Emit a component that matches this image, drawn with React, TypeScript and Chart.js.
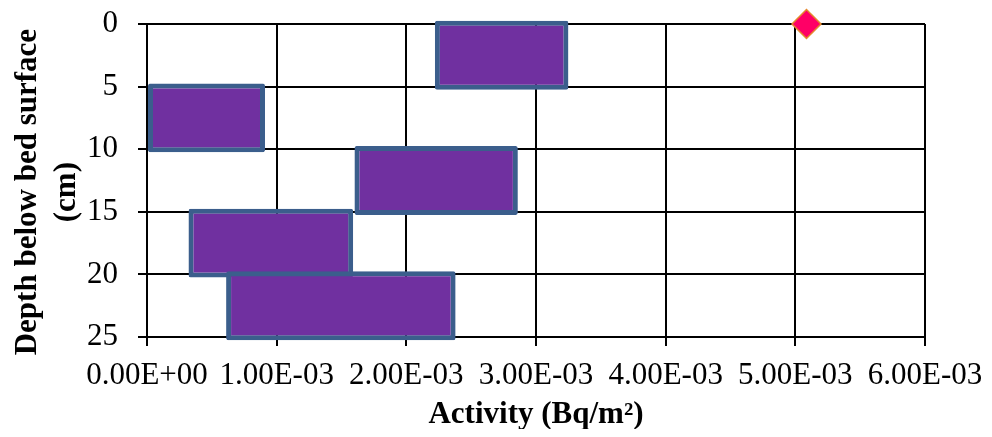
import React, { useEffect, useRef } from "react";
import { Chart, registerables } from "chart.js";

Chart.register(...registerables);

// Depth intervals (cm) — bar centre of each layer
const depthCenters = [2.5, 7.5, 12.5, 17.5, 22.5];
// Activity ranges (Bq/m²) for each depth layer
const activityLow = [0.00222, 0.0, 0.00160, 0.00032, 0.00061];
const activityHigh = [0.00325, 0.00091, 0.00286, 0.00159, 0.00238];
// Single marker point
const pointActivity = [0.005086];
const pointDepth = [0];

const xTickValues = [0, 0.001, 0.002, 0.003, 0.004, 0.005, 0.006];
const xTickLabels = ["0.00E+00", "1.00E-03", "2.00E-03", "3.00E-03", "4.00E-03", "5.00E-03", "6.00E-03"];
const yTickValues = [0, 5, 10, 15, 20, 25];
const yTickLabels = ["0", "5", "10", "15", "20", "25"];

const xTitle = "Activity (Bq/m²)";
const yTitle = ["Depth below bed surface   ", "(cm)   "];

export default function App() {
  const ref = useRef<HTMLCanvasElement | null>(null);

  useEffect(() => {
    if (!ref.current) return;
    const serif = "'Liberation Serif', 'Times New Roman', serif";
    const barData = depthCenters.map((d, i) => ({ x: [activityLow[i], activityHigh[i]], y: d }));
    const ptData = pointActivity.map((a, i) => ({ x: a, y: pointDepth[i] }));

    const nearestIdx = (vals: number[], v: number) => {
      let best = 0;
      for (let i = 1; i < vals.length; i++) {
        if (Math.abs(vals[i] - v) < Math.abs(vals[best] - v)) best = i;
      }
      return best;
    };

    const zeroPad = (s: any) => {
      s.paddingTop = 0;
      s.paddingBottom = 0;
      s.paddingLeft = 0;
      s.paddingRight = 0;
    };

    const chart = new Chart(ref.current, {
      type: "bar",
      data: {
        datasets: [
          {
            type: "bar",
            label: "Activity range",
            data: barData as any,
            backgroundColor: "#7030A0",
            borderColor: "#3B5E8C",
            borderWidth: 5,
            borderRadius: 2,
            borderSkipped: false,
            barPercentage: 1.1,
            categoryPercentage: 1,
            clip: false as any,
            order: 2,
          } as any,
          {
            type: "scatter",
            label: "Surface",
            data: ptData as any,
            pointStyle: "rectRot",
            pointRadius: 14.5,
            backgroundColor: "#FF0066",
            borderColor: "#E5892E",
            borderWidth: 1.5,
            clip: false as any,
            order: 1,
          } as any,
        ],
      },
      options: {
        indexAxis: "y",
        animation: false,
        responsive: false,
        maintainAspectRatio: false,
        layout: { padding: { top: 11, right: 59, left: 0, bottom: 0 } },
        plugins: {
          legend: { display: false },
          tooltip: { enabled: false },
        },
        scales: {
          x: {
            type: "linear",
            position: "bottom",
            min: 0,
            max: 0.006,
            offset: false,
            ticks: {
              stepSize: 0.001,
              autoSkip: false,
              maxRotation: 0,
              minRotation: 0,
              padding: 11.5,
              color: "#000",
              font: { family: serif, size: 31 },
              callback: (v: any) => xTickLabels[nearestIdx(xTickValues, Number(v))],
            },
            grid: { color: "#000", lineWidth: 2, tickLength: 9, drawTicks: true, offset: false },
            border: { display: true, color: "#000", width: 2 },
            title: {
              display: true,
              text: xTitle,
              color: "#000",
              font: { family: serif, size: 31, weight: "bold", lineHeight: 1.45 },
              padding: { top: 0, bottom: 0 },
            },
            afterFit: (s: any) => {
              s.height = 100;
              zeroPad(s);
            },
          },
          y: {
            type: "linear",
            position: "left",
            reverse: true,
            min: 0,
            max: 25,
            offset: false,
            ticks: {
              stepSize: 5,
              autoSkip: false,
              padding: 20,
              color: "#000",
              font: { family: serif, size: 31, lineHeight: 0.7 },
              callback: (v: any) => yTickLabels[nearestIdx(yTickValues, Number(v))],
            },
            grid: { color: "#000", lineWidth: 2, tickLength: 9, drawTicks: true, offset: false },
            border: { display: true, color: "#000", width: 2 },
            title: {
              display: true,
              text: yTitle,
              color: "#000",
              font: { family: serif, size: 31, weight: "bold", lineHeight: 1.25 },
              padding: { top: 0.6, bottom: 0 },
            },
            afterFit: (s: any) => {
              s.width = 139;
              zeroPad(s);
            },
          },
        },
      } as any,
    });
    return () => chart.destroy();
  }, []);

  return (
    <div style={{ width: 976, height: 429, marginBottom: -8 }}>
      <canvas ref={ref} width={976} height={429} style={{ display: "block" }} />
    </div>
  );
}
